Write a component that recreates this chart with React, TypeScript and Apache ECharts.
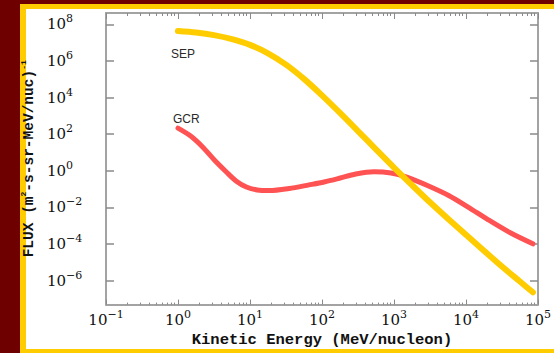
import React, { useEffect, useRef } from 'react';
import * as echarts from 'echarts';

// Solar energetic particles (SEP) spectrum: kinetic energy (MeV/nucleon) vs flux
const energySEP = [1, 1.78, 3.16, 5.62, 10, 17.8, 31.6, 56.2, 100, 178, 316, 562, 1000, 1778, 3162, 5623, 10000, 17783, 31623, 56234, 85000];
const fluxSEP = [4.27e7, 3.55e7, 2.57e7, 1.55e7, 7.6e6, 2.63e6, 6.3e5, 1.05e5, 1.32e4, 1.45e3, 148, 14.8, 1.51, 0.166, 0.019, 2.4e-3, 3.2e-4, 4.3e-5, 5.9e-6, 8.9e-7, 2.3e-7];

// Galactic cosmic rays (GCR) spectrum
const energyGCR = [1, 1.5, 2.2, 3.2, 4.7, 6.4, 8.9, 12.6, 18.6, 35, 66, 107, 174, 295, 525, 910, 1510, 3020, 5750, 10700, 20400, 41300, 85000];
const fluxGCR = [214, 79, 20, 3.9, 0.86, 0.28, 0.13, 0.089, 0.083, 0.108, 0.17, 0.245, 0.39, 0.67, 0.89, 0.76, 0.45, 0.148, 0.045, 0.0105, 2.1e-3, 4.1e-4, 1.02e-4];

// Axis ticks / labels
const xMajorTicks = [0.1, 1, 10, 100, 1000, 10000, 100000];
const yMajorTicks = [1e-6, 1e-4, 1e-2, 1, 1e2, 1e4, 1e6, 1e8];
const minorMultipliers = [2, 3, 4, 5, 6, 7, 8, 9];
const xMinorTicks: number[] = [];
xMajorTicks.slice(0, -1).forEach((d) => minorMultipliers.forEach((m) => xMinorTicks.push(d * m)));

const xMin = 0.1;
const xMax = 100000;
const yMin = 4.9e-8;
const yMax = 4.17e8;

const AXIS_COLOR = '#a3a3a3';
const TICK_COLOR = '#8a8a8a';

const powLabel = (v: number) => {
  const e = Math.round(Math.log10(v));
  const s = e < 0 ? '\u2212' + String(-e) : String(e);
  return `{b|10}{s|${s}}`;
};

const labelRich = {
  b: { fontFamily: 'DejaVu Serif', fontSize: 15, color: '#111', lineHeight: 22 },
  s: { fontFamily: 'DejaVu Serif', fontSize: 11, color: '#111', lineHeight: 12, verticalAlign: 'top' as const },
};

export default function App() {
  const ref = useRef<HTMLDivElement>(null);
  useEffect(() => {
    if (!ref.current) return;
    const chart = echarts.init(ref.current, undefined, { renderer: 'svg' });
    const baseX = {
      type: 'log' as const,
      min: xMin,
      max: xMax,
      logBase: 10,
      splitLine: { show: false },
      axisLine: { onZero: false, lineStyle: { color: AXIS_COLOR, width: 2 } },
    };
    const baseY = {
      type: 'log' as const,
      min: yMin,
      max: yMax,
      logBase: 10,
      splitLine: { show: false },
      axisLine: { onZero: false, lineStyle: { color: AXIS_COLOR, width: 2 } },
    };
    chart.setOption({
      animation: false,
      backgroundColor: 'transparent',
      grid: { left: 106, right: 14, top: 13, bottom: 48 },
      xAxis: [
        {
          ...baseX,
          position: 'bottom',
          axisTick: { inside: true, length: 5, customValues: xMajorTicks, lineStyle: { color: TICK_COLOR, width: 1 } },
          axisLabel: { customValues: xMajorTicks, formatter: powLabel, rich: labelRich, margin: 4 },
          name: 'Kinetic Energy (MeV/nucleon)',
          nameLocation: 'middle',
          nameGap: 24,
          nameTextStyle: { fontFamily: 'Liberation Mono', fontWeight: 'bold', fontSize: 15.5, color: '#111' },
        },
        {
          ...baseX,
          position: 'bottom',
          axisLine: { show: false, onZero: false },
          axisTick: { inside: true, length: 2, customValues: xMinorTicks, lineStyle: { color: TICK_COLOR, width: 1 } },
          axisLabel: { show: false },
        },
        {
          ...baseX,
          position: 'top',
          axisTick: { inside: true, length: 6, customValues: xMajorTicks, lineStyle: { color: TICK_COLOR, width: 1 } },
          axisLabel: { show: false },
        },
        {
          ...baseX,
          position: 'top',
          axisLine: { show: false, onZero: false },
          axisTick: { inside: true, length: 3, customValues: xMinorTicks, lineStyle: { color: TICK_COLOR, width: 1 } },
          axisLabel: { show: false },
        },
      ],
      yAxis: [
        {
          ...baseY,
          position: 'left',
          axisTick: { inside: true, length: 8, customValues: yMajorTicks, lineStyle: { color: TICK_COLOR, width: 1.5 } },
          axisLabel: { customValues: yMajorTicks, formatter: powLabel, rich: labelRich, align: 'left', margin: 59 },
          name: '{t|FLUX (m}{u|2}{t|-s-sr-MeV/nuc)}{u|-1}',
          nameLocation: 'middle',
          nameGap: 62,
          nameRotate: 90,
          nameTextStyle: {
            rich: {
              t: { fontFamily: 'Liberation Mono', fontWeight: 'bold', fontSize: 14.5, color: '#111', lineHeight: 18 },
              u: { fontFamily: 'Liberation Mono', fontWeight: 'bold', fontSize: 8, color: '#111', lineHeight: 8, verticalAlign: 'top' },
            },
          },
        },
        {
          ...baseY,
          position: 'right',
          axisTick: { inside: true, length: 8, customValues: yMajorTicks, lineStyle: { color: TICK_COLOR, width: 1.5 } },
          axisLabel: { show: false },
        },
      ],
      series: [
        {
          name: 'SEP',
          type: 'line',
          xAxisIndex: 0,
          yAxisIndex: 0,
          data: energySEP.map((e, i) => [e, fluxSEP[i]]),
          smooth: 0.3,
          showSymbol: false,
          lineStyle: { color: '#ffcc00', width: 6, cap: 'round', join: 'round' },
          z: 3,
        },
        {
          name: 'GCR',
          type: 'line',
          xAxisIndex: 0,
          yAxisIndex: 0,
          data: energyGCR.map((e, i) => [e, fluxGCR[i]]),
          smooth: 0.3,
          showSymbol: false,
          lineStyle: { color: '#ff5252', width: 5, cap: 'round', join: 'round' },
          z: 2,
        },
      ],
      graphic: [
        {
          type: 'text',
          left: 171,
          top: 48,
          style: { text: 'SEP', fontFamily: 'Liberation Sans', fontSize: 12, fill: '#2a2a2a' },
        },
        {
          type: 'text',
          left: 173,
          top: 113,
          style: { text: 'GCR', fontFamily: 'Liberation Sans', fontSize: 12, fill: '#2a2a2a' },
        },
      ],
    });
    return () => chart.dispose();
  }, []);

  return (
    <div style={{ position: 'fixed', left: 0, top: 0, width: 554, height: 353, background: '#6e0000', overflow: 'hidden' }}>
      <div style={{ position: 'absolute', left: 20, top: 4, width: 534, height: 349, background: '#ffcc00' }} />
      <div style={{ position: 'absolute', left: 26, top: 9, width: 528, height: 340, background: '#ffffff' }} />
      <div ref={ref} style={{ position: 'absolute', left: 0, top: 0, width: 554, height: 353 }} />
    </div>
  );
}
